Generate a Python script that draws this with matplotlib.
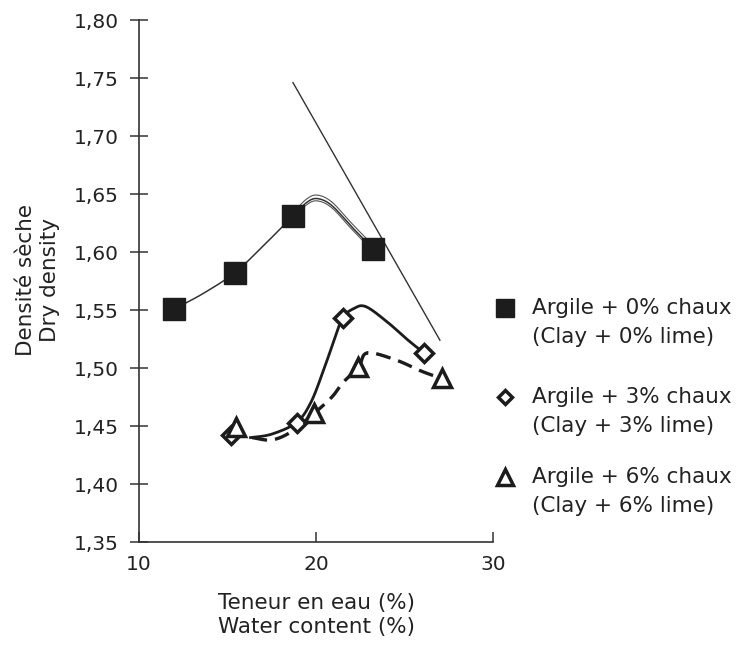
import numpy as np
import matplotlib
matplotlib.use('Agg')
import matplotlib.pyplot as plt
from matplotlib.ticker import FuncFormatter

plt.rcParams['font.family'] = ['DejaVu Sans']

# measured points
w0 = [12.0, 15.4, 18.7, 23.2]
d0 = [1.551, 1.582, 1.631, 1.603]
w3 = [15.2, 18.9, 21.5, 26.1]
d3 = [1.442, 1.453, 1.543, 1.513]
w6 = [15.5, 19.9, 22.4, 27.1]
d6 = [1.449, 1.461, 1.501, 1.491]

# hand drawn curves
c0_x = [12.0, 13.6, 15.4, 17.0, 18.7, 19.5, 20.1, 20.9, 22.0, 23.2]
c0_y = [1.551, 1.564, 1.582, 1.605, 1.631, 1.643, 1.646, 1.640, 1.622, 1.603]
c3_x = [16.3, 17.5, 18.9, 19.7, 20.4, 21.0, 21.5, 22.1, 22.8, 24.0, 25.2, 26.1]
c3_y = [1.440, 1.443, 1.453, 1.470, 1.497, 1.523, 1.543, 1.551, 1.553, 1.540, 1.524, 1.513]
c6_x = [16.4, 17.5, 18.6, 19.9, 20.9, 21.5, 22.4, 22.9, 24.5, 26.0, 27.1]
c6_y = [1.440, 1.438, 1.445, 1.461, 1.475, 1.487, 1.501, 1.513, 1.507, 1.497, 1.491]
# tangent line
t_x = [18.7, 27.0]
t_y = [1.746, 1.524]

labels = [('Argile + 0% chaux', '(Clay + 0% lime)'),
          ('Argile + 3% chaux', '(Clay + 3% lime)'),
          ('Argile + 6% chaux', '(Clay + 6% lime)')]

ink = '#1c1c1c'

def smooth(x, y, n=20):
    # catmull-rom through the read points
    p = np.column_stack([x, y])
    p = np.vstack([p[0], p, p[-1]])
    out = []
    for i in range(1, len(p) - 2):
        p0, p1, p2, p3 = p[i-1], p[i], p[i+1], p[i+2]
        t = np.linspace(0, 1, n)[:, None]
        seg = 0.5 * ((2*p1) + (-p0 + p2)*t + (2*p0 - 5*p1 + 4*p2 - p3)*t**2
                     + (-p0 + 3*p1 - 3*p2 + p3)*t**3)
        out.append(seg)
    out = np.vstack(out)
    return out[:, 0], out[:, 1]

fig = plt.figure(figsize=(7.41, 6.46), dpi=100)
ax = fig.add_axes([139/741, 1-542/646, (493-139)/741, (542-20)/646])
ax.set_xlim(10, 30)
ax.set_ylim(1.35, 1.80)

sx, sy = smooth(c0_x, c0_y)
ax.plot(sx, sy, color='#333333', lw=1.1)
ax.plot(sx[88:], sy[88:] + 0.003, color='#555555', lw=0.8)
ax.plot(sx[88:], sy[88:] - 0.002, color='#555555', lw=0.8)
ax.plot(t_x, t_y, color='#333333', lw=1.0)

sx, sy = smooth(c3_x, c3_y)
ax.plot(sx, sy, color=ink, lw=2.0)
sx, sy = smooth(c6_x, c6_y)
ax.plot(sx, sy, color=ink, lw=2.4, dashes=(4.5, 2.4))

ax.plot(w0, d0, 's', ms=16.5, color=ink, ls='none')
ax.plot(w3, d3, 'D', ms=9.5, mfc='white', mec=ink, mew=2.5, ls='none')
ax.plot(w6, d6, '^', ms=13, mfc='white', mec=ink, mew=2.5, ls='none')

for s in ['top', 'right']:
    ax.spines[s].set_visible(False)
for s in ['left', 'bottom']:
    ax.spines[s].set_color('#333333')
    ax.spines[s].set_linewidth(1.2)

ax.set_xticks([10, 20, 30])
ax.set_yticks(np.arange(1.35, 1.801, 0.05))
ax.yaxis.set_major_formatter(FuncFormatter(lambda v, p: ('%.2f' % v).replace('.', ',')))
ax.tick_params(axis='y', direction='inout', length=13.5, width=1.1, pad=8,
               labelsize=14.5, colors='#333333', labelcolor='#222222')
ax.tick_params(axis='x', direction='in', length=7, width=1.1, pad=9,
               labelsize=14.5, colors='#333333', labelcolor='#222222')

fig.text(316/741, 1-615/646, 'Teneur en eau (%)\nWater content (%)', ha='center', va='center',
         fontsize=15.5, color='#222222', linespacing=1.25)
fig.text(38/741, 1-280/646, 'Densité sèche\nDry density', ha='center', va='center',
         rotation=90, fontsize=15.5, color='#222222', linespacing=1.3)

# legend drawn by hand
rows = [308, 397, 477]
styles = [dict(marker='s', ms=13.5, color=ink),
          dict(marker='D', ms=7.5, mfc='white', mec=ink, mew=2.5),
          dict(marker='^', ms=12, mfc='white', mec=ink, mew=2.5)]
for r, st, (l1, l2) in zip(rows, styles, labels):
    ax.plot([505/741], [1-r/646], transform=fig.transFigure, clip_on=False, ls='none', **st)
    fig.text(532/741, 1-r/646, l1, ha='left', va='center', fontsize=15.5, color='#222222')
    fig.text(532/741, 1-(r+29)/646, l2, ha='left', va='center', fontsize=15.5, color='#222222')

fig.savefig('out.png', dpi=100)
